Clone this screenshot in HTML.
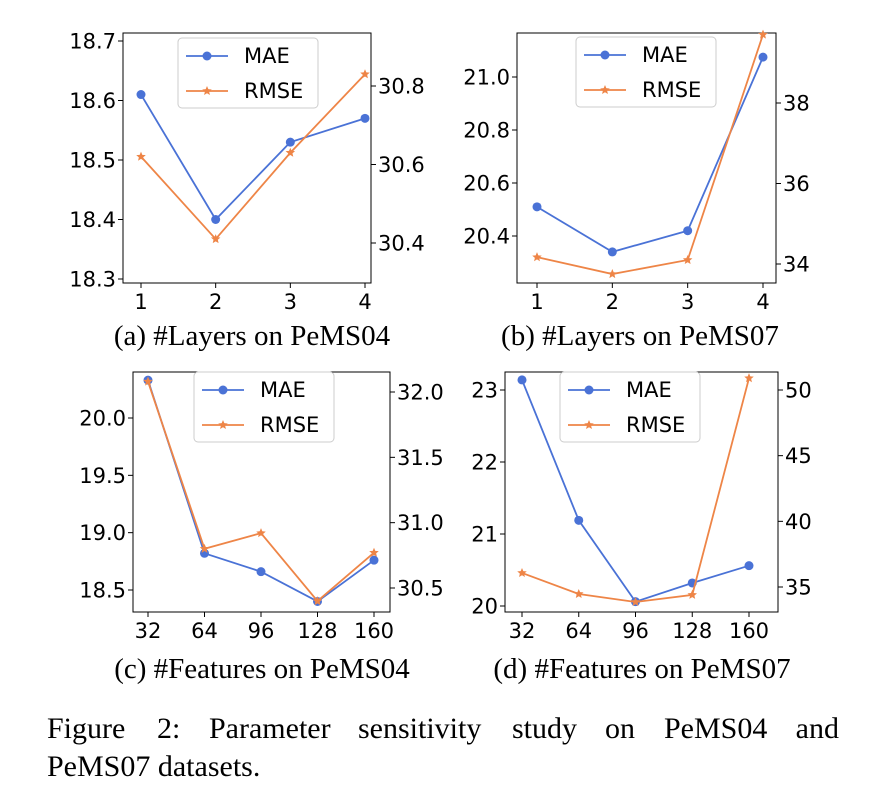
<!DOCTYPE html>
<html><head><meta charset="utf-8"><style>
body{margin:0;background:#fff;}
svg{display:block;font-family:"DejaVu Sans","Liberation Sans",sans-serif;}
.cap{font-family:"Liberation Serif",serif;}
</style></head><body>
<svg id="fig" width="869" height="790" viewBox="0 0 869 790" xmlns="http://www.w3.org/2000/svg">
<text class="cap" x="252" y="345" font-size="29" text-anchor="middle">(a) #Layers on PeMS04</text>
<text class="cap" x="640" y="345" font-size="29" text-anchor="middle">(b) #Layers on PeMS07</text>
<text class="cap" x="262" y="678" font-size="29" text-anchor="middle">(c) #Features on PeMS04</text>
<text class="cap" x="642" y="678" font-size="29" text-anchor="middle">(d) #Features on PeMS07</text>
<g font-size="30">
<text class="cap" x="47" y="738">Figure</text>
<text class="cap" x="157" y="738">2:</text>
<text class="cap" x="209" y="738">Parameter</text>
<text class="cap" x="358" y="738">sensitivity</text>
<text class="cap" x="512" y="738">study</text>
<text class="cap" x="605" y="738">on</text>
<text class="cap" x="664" y="738">PeMS04</text>
<text class="cap" x="839" y="738" text-anchor="end">and</text>
</g>
<text class="cap" x="47" y="776" font-size="30">PeMS07 datasets.</text>
</svg>
<script>
const catsA=["1","2","3","4"];
const maeA=[18.61,18.40,18.53,18.57];
const rmseA=[30.62,30.41,30.63,30.83];
const lTicksA=[18.3,18.4,18.5,18.6,18.7];
const rTicksA=[30.4,30.6,30.8];
const catsB=["1","2","3","4"];
const maeB=[20.51,20.34,20.42,21.075];
const rmseB=[34.17,33.75,34.1,39.7];
const lTicksB=[20.4,20.6,20.8,21.0];
const rTicksB=[34,36,38];
const catsC=["32","64","96","128","160"];
const maeC=[20.33,18.82,18.66,18.40,18.76];
const rmseC=[32.08,30.8,30.92,30.4,30.77];
const lTicksC=[18.5,19.0,19.5,20.0];
const rTicksC=[30.5,31.0,31.5,32.0];
const catsD=["32","64","96","128","160"];
const maeD=[23.14,21.19,20.06,20.32,20.56];
const rmseD=[36.07,34.47,33.86,34.4,50.9];
const lTicksD=[20,21,22,23];
const rTicksD=[35,40,45,50];

const NS="http://www.w3.org/2000/svg";
const svg=document.getElementById('fig');
function mk(t,a,p){const e=document.createElementNS(NS,t);for(const k in a)e.setAttribute(k,a[k]);(p||svg).appendChild(e);return e;}
const BLUE="#4a72d6",ORANGE="#ee8547";
function star(cx,cy,r){let s="";for(let i=0;i<10;i++){const a=-Math.PI/2+i*Math.PI/5;const rr=i%2?r*0.45:r;s+=(i?"L":"M")+(cx+rr*Math.cos(a)).toFixed(2)+","+(cy+rr*Math.sin(a)).toFixed(2);}return s+"Z";}
function panel(id,box,xFirst,xLast,cats,mae,rmse,lT,lRef,rT,rRef,dec,rdec,leg){
  const g=mk('g',{});
  
  
  const [x0,y0,x1,y1]=box;
  const xs=i=>xFirst+(xLast-xFirst)*i/(cats.length-1);
  const yl=v=>lRef[1]+(v-lRef[0])*(lRef[3]-lRef[1])/(lRef[2]-lRef[0]);
  const yr=v=>rRef[1]+(v-rRef[0])*(rRef[3]-rRef[1])/(rRef[2]-rRef[0]);
  const fr=mk('rect',{x:x0,y:y0,width:x1-x0,height:y1-y0,fill:'none',stroke:'#000','stroke-width':1},g);
  
  
  cats.forEach((c,i)=>{const x=xs(i);mk('line',{x1:x,x2:x,y1:y1,y2:y1+5,stroke:'#000'},g);
    const t=mk('text',{x:x,y:y1+26,'font-size':21,'text-anchor':'middle'},g);t.textContent=c;
    
    });
  lT.forEach(v=>{const y=yl(v);mk('line',{x1:x0-5,x2:x0,y1:y,y2:y,stroke:'#000'},g);
    const t=mk('text',{x:x0-7,y:y+7.5,'font-size':21,'text-anchor':'end'},g);t.textContent=v.toFixed(dec);
    
    });
  rT.forEach(v=>{const y=yr(v);mk('line',{x1:x1,x2:x1+5,y1:y,y2:y,stroke:'#000'},g);
    const t=mk('text',{x:x1+7,y:y+7.5,'font-size':21},g);t.textContent=v.toFixed(rdec);
    
    });
  const pm=mae.map((v,i)=>xs(i)+','+yl(v)).join(' ');
  const lm=mk('polyline',{points:pm,fill:'none',stroke:BLUE,'stroke-width':1.8},g);
  
  
  mae.forEach((v,i)=>{const c=mk('circle',{cx:xs(i),cy:yl(v),r:4.5,fill:BLUE},g);
    
    });
  const pr=rmse.map((v,i)=>xs(i)+','+yr(v)).join(' ');
  const lr=mk('polyline',{points:pr,fill:'none',stroke:ORANGE,'stroke-width':1.8},g);
  
  
  rmse.forEach((v,i)=>{const s=mk('path',{d:star(xs(i),yr(v),5),fill:ORANGE},g);
    
    });
  const [lx,ly]=leg;
  const lg=mk('g',{},g);
  
  
  mk('rect',{x:lx,y:ly,width:140,height:70,rx:4,fill:'#fff','fill-opacity':0.85,stroke:'#ccc'},lg);
  mk('line',{x1:lx+8,x2:lx+50,y1:ly+18,y2:ly+18,stroke:BLUE,'stroke-width':1.8},lg);
  mk('circle',{cx:lx+29,cy:ly+18,r:4.5,fill:BLUE},lg);
  const t1=mk('text',{x:lx+66,y:ly+25,'font-size':21},lg);t1.textContent='MAE';
  
  
  mk('line',{x1:lx+8,x2:lx+50,y1:ly+53,y2:ly+53,stroke:ORANGE,'stroke-width':1.8},lg);
  mk('path',{d:star(lx+29,ly+53,5),fill:ORANGE},lg);
  const t2=mk('text',{x:lx+66,y:ly+60,'font-size':21},lg);t2.textContent='RMSE';
  
  
}
panel('a',[123,33,371,283],141,365,catsA,maeA,rmseA,lTicksA,[18.7,41,18.3,279],rTicksA,[30.8,86,30.4,243],1,1,[178,38]);
panel('b',[517,33,776,283],537,763,catsB,maeB,rmseB,lTicksB,[21.0,77,20.4,236],rTicksB,[38,103,34,264],1,0,[576,37]);
panel('c',[133,372,390,612],148,374,catsC,maeC,rmseC,lTicksC,[20.0,418,18.5,590],rTicksC,[32.0,392,30.5,588],1,1,[194,372]);
panel('d',[505,372,778,612],522,749,catsD,maeD,rmseD,lTicksD,[23,390,20,606],rTicksD,[50,390,35,587],0,0,[560,372]);
</script>
</body></html>
